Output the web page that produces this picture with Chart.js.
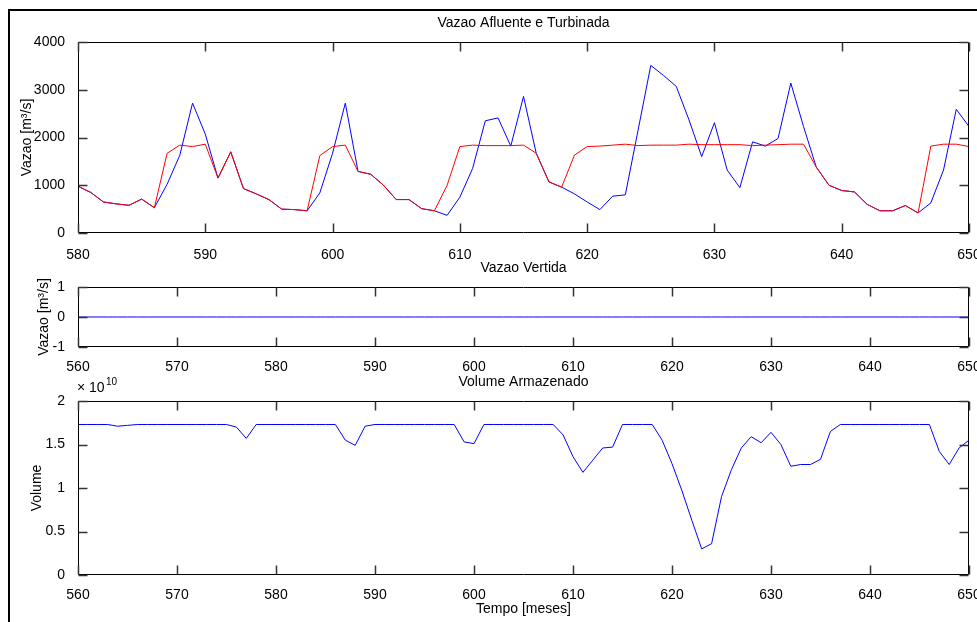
<!DOCTYPE html>
<html>
<head>
<meta charset="utf-8">
<script src="https://cdn.jsdelivr.net/npm/chart.js@4.4.1/dist/chart.umd.min.js"></script>
<style>
  html, body { margin: 0; padding: 0; background: #fff; }
  #fig { position: relative; width: 977px; height: 622px; overflow: hidden; }
  #moldura { position: absolute; left: 8px; top: 9px; width: 990px; height: 640px;
             border-top: 2px solid #000; border-left: 2px solid #000; }
  canvas { position: absolute; left: 0; }
</style>
</head>
<body>
<div id="fig">
  <div id="moldura"></div>
  <canvas id="gAfluente" width="977" height="262" style="top:0px"></canvas>
  <canvas id="gVertida" width="977" height="125" style="top:250px"></canvas>
  <canvas id="gVolume" width="977" height="257" style="top:365px"></canvas>
</div>
<script>
// meses 580..650
const inicioVazao = 580;
const afluente = [
  980, 850, 650, 610, 580, 710, 530, 1020, 1630, 2720,
  2070, 1150, 1700, 930, 820, 700, 500, 490, 465, 840,
  1670, 2720, 1290, 1230, 1000, 700, 700, 510, 465, 370,
  750, 1350, 2350, 2410, 1820, 2860, 1670, 1070, 960, 820,
  650, 490, 770, 800, 2150, 3510, 3300, 3070, 2370, 1600,
  2310, 1320, 950, 1910, 1820, 1980, 3140, 2230, 1380, 1000,
  890, 860, 600, 465, 465, 575, 420, 630, 1320, 2590,
  2230
];
const turbinada = [
  980, 850, 650, 610, 580, 710, 530, 1670, 1840, 1810,
  1860, 1150, 1700, 930, 820, 700, 500, 490, 465, 1620,
  1810, 1840, 1290, 1230, 1000, 700, 700, 510, 465, 1000,
  1810, 1840, 1830, 1830, 1830, 1840, 1670, 1070, 960, 1630,
  1810, 1820, 1840, 1860, 1830, 1840, 1840, 1840, 1860, 1850,
  1850, 1850, 1850, 1830, 1840, 1850, 1860, 1860, 1380, 1000,
  890, 860, 600, 465, 465, 575, 420, 1820, 1860, 1860,
  1810
];

// meses 560..650
const inicioBase = 560;
const vertida = [
  0, 0, 0, 0, 0, 0, 0, 0, 0, 0,
  0, 0, 0, 0, 0, 0, 0, 0, 0, 0,
  0, 0, 0, 0, 0, 0, 0, 0, 0, 0,
  0, 0, 0, 0, 0, 0, 0, 0, 0, 0,
  0, 0, 0, 0, 0, 0, 0, 0, 0, 0,
  0, 0, 0, 0, 0, 0, 0, 0, 0, 0,
  0, 0, 0, 0, 0, 0, 0, 0, 0, 0,
  0, 0, 0, 0, 0, 0, 0, 0, 0, 0,
  0, 0, 0, 0, 0, 0, 0, 0, 0, 0,
  0
];
// x 10^10
const volume = [
  1.73, 1.73, 1.73, 1.73, 1.71, 1.72, 1.73, 1.73, 1.73, 1.73,
  1.73, 1.73, 1.73, 1.73, 1.73, 1.73, 1.70, 1.57, 1.73, 1.73,
  1.73, 1.73, 1.73, 1.73, 1.73, 1.73, 1.73, 1.55, 1.49, 1.71,
  1.73, 1.73, 1.73, 1.73, 1.73, 1.73, 1.73, 1.73, 1.73, 1.53,
  1.51, 1.73, 1.73, 1.73, 1.73, 1.73, 1.73, 1.73, 1.73, 1.61,
  1.36, 1.18, 1.32, 1.46, 1.47, 1.73, 1.73, 1.73, 1.73, 1.55,
  1.28, 0.97, 0.63, 0.30, 0.36, 0.90, 1.21, 1.46, 1.59, 1.52,
  1.64, 1.50, 1.25, 1.27, 1.27, 1.33, 1.65, 1.73, 1.73, 1.73,
  1.73, 1.73, 1.73, 1.73, 1.73, 1.73, 1.73, 1.42, 1.27, 1.46,
  1.55
];

const ticksXVazao = [580, 590, 600, 610, 620, 630, 640, 650];
const ticksXBase = [560, 570, 580, 590, 600, 610, 620, 630, 640, 650];
const ticksYVazao = [0, 1000, 2000, 3000, 4000];
const ticksYVertida = [-1, 0, 1];
const ticksYVolume = [0, 0.5, 1, 1.5, 2];

Chart.defaults.font.family = '"Liberation Sans", Arial, sans-serif';
Chart.defaults.font.size = 14;
Chart.defaults.color = '#000';

const pontos = (ini, vals) => vals.map((v, i) => ({ x: ini + i, y: v }));

// caixa fechada com ticks para dentro, estilo matlab
function caixa(o) {
  return {
    id: 'caixa',
    afterDraw(chart) {
      const ctx = chart.ctx;
      const a = chart.chartArea;
      const sx = chart.scales.x, sy = chart.scales.y;
      const L = Math.round(a.left) + 0.5, R = Math.round(a.right) - 0.5;
      const T = Math.round(a.top) + 0.5, B = Math.round(a.bottom) - 0.5;
      const tl = 9;
      ctx.save();
      ctx.strokeStyle = '#000';
      ctx.lineWidth = 1;
      ctx.beginPath();
      ctx.rect(L, T, R - L, B - T);
      ctx.stroke();
      // ticks para dentro
      ctx.strokeStyle = '#333';
      ctx.lineWidth = 1.5;
      ctx.beginPath();
      o.xticks.forEach(v => {
        const px = Math.round(sx.getPixelForValue(v)) + 0.5;
        ctx.moveTo(px, B); ctx.lineTo(px, B - tl);
        ctx.moveTo(px, T); ctx.lineTo(px, T + tl);
      });
      o.yticks.forEach(v => {
        const py = Math.round(sy.getPixelForValue(v)) + 0.5;
        ctx.moveTo(L, py); ctx.lineTo(L + tl, py);
        ctx.moveTo(R, py); ctx.lineTo(R - tl, py);
      });
      ctx.stroke();
      if (o.expoente) {
        ctx.fillStyle = '#000';
        ctx.textBaseline = 'alphabetic';
        ctx.textAlign = 'left';
        ctx.font = '14px "Liberation Sans", Arial, sans-serif';
        ctx.fillText('\u00d7 10', a.left - 1, a.top - 9);
        ctx.font = '10px "Liberation Sans", Arial, sans-serif';
        ctx.fillText(o.expoente, a.left + 28, a.top - 16);
      }
      ctx.restore();
    }
  };
}

function criar(id, o) {
  new Chart(document.getElementById(id), {
    type: 'line',
    data: { datasets: o.series.map(s => ({
      data: s.data, borderColor: s.cor, borderWidth: 1, pointRadius: 0, tension: 0, fill: false
    })) },
    options: {
      responsive: false,
      animation: false,
      events: [],
      layout: { padding: { left: 0, right: 8, top: 0, bottom: 0 } },
      plugins: {
        legend: { display: false },
        tooltip: { enabled: false },
        title: {
          display: true, text: o.titulo, fullSize: false, color: '#000',
          font: { size: 14, weight: 'normal' },
          padding: { top: o.tituloPad, bottom: o.topo - o.tituloPad - 16.8 }
        }
      },
      scales: {
        x: {
          type: 'linear', min: o.xmin, max: o.xmax,
          afterBuildTicks: s => { s.ticks = o.xticks.map(v => ({ value: v })); },
          grid: { display: false }, border: { display: false },
          ticks: { padding: o.xpad, maxRotation: 0, autoSkip: false, callback: v => String(v) },
          title: o.xtitulo
            ? { display: true, text: o.xtitulo, color: '#000', padding: { top: 0, bottom: o.xtituloPad } }
            : { display: false },
          afterFit: s => { s.height = o.xh; s.paddingLeft = 0; s.paddingRight = 0; }
        },
        y: {
          type: 'linear', min: o.ymin, max: o.ymax,
          afterBuildTicks: s => { s.ticks = o.yticks.map(v => ({ value: v })); },
          grid: { display: false }, border: { display: false },
          ticks: { padding: 5, callback: v => String(v) },
          title: { display: true, text: o.ytitulo, color: '#000', padding: { top: o.ytituloPad, bottom: 0 } },
          afterFit: s => { s.width = 78; }
        }
      }
    },
    plugins: [caixa(o)]
  });
}

criar('gAfluente', {
  titulo: 'Vazao Afluente e Turbinada', tituloPad: 14.6, topo: 42,
  series: [
    { data: pontos(inicioVazao, turbinada), cor: '#ff0000' },
    { data: pontos(inicioVazao, afluente), cor: '#0000ff' }
  ],
  xmin: 580, xmax: 650, xticks: ticksXVazao, xpad: 6, xh: 29,
  ymin: 0, ymax: 4000, yticks: ticksYVazao,
  ytitulo: 'Vazao [m\u00b3/s]', ytituloPad: 19
});

criar('gVertida', {
  titulo: 'Vazao Vertida', tituloPad: 9.6, topo: 37,
  series: [ { data: pontos(inicioBase, vertida), cor: '#0000ff' } ],
  xmin: 560, xmax: 650, xticks: ticksXBase, xpad: 4, xh: 28,
  ymin: -1, ymax: 1, yticks: ticksYVertida,
  ytitulo: 'Vazao [m\u00b3/s]', ytituloPad: 36
});

criar('gVolume', {
  titulo: 'Volume Armazenado', tituloPad: 8.6, topo: 36,
  series: [ { data: pontos(inicioBase, volume), cor: '#0000ff' } ],
  xmin: 560, xmax: 650, xticks: ticksXBase, xpad: 4, xh: 47,
  xtitulo: 'Tempo [meses]', xtituloPad: 4.6,
  ymin: 0, ymax: 2, yticks: ticksYVolume,
  ytitulo: 'Volume', ytituloPad: 29,
  expoente: '10'
});
</script>
</body>
</html>
